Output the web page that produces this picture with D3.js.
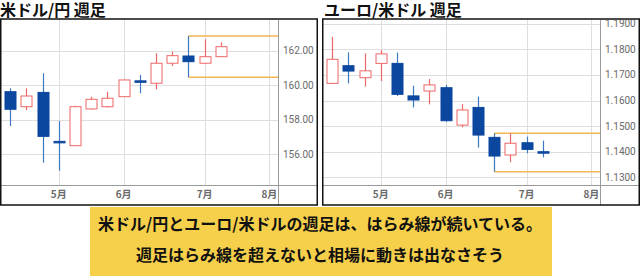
<!DOCTYPE html>
<html>
<head>
<meta charset="utf-8">
<script src="https://cdn.jsdelivr.net/npm/d3@7"></script>
<style>
  html, body { margin: 0; padding: 0; background: #fff; }
  svg { display: block; }
</style>
</head>
<body>
<svg id="chart" width="640" height="276"></svg>
<script>
// ---- data ----
const monthLabels = ['5月', '6月', '7月', '8月'];
const monthIndex = [3, 7, 12, 16];

// USD/JPY weekly
const ujOpen  = [159.64, 158.77, 159.60, 156.76, 156.51, 158.64, 158.77, 159.35, 160.27, 160.13, 161.29, 161.71, 161.29, 161.67];
const ujHigh  = [159.84, 159.84, 160.71, 157.94, 158.83, 159.35, 159.64, 160.34, 160.61, 161.87, 161.96, 162.87, 162.68, 162.50];
const ujLow   = [157.65, 158.58, 155.52, 155.06, 156.51, 158.60, 158.72, 159.33, 159.55, 159.78, 161.13, 160.48, 161.27, 161.65];
const ujClose = [158.62, 159.39, 157.05, 156.72, 158.77, 159.20, 159.26, 160.32, 160.25, 161.29, 161.73, 161.38, 161.67, 162.25];
const ujTicks = [156, 158, 160, 162];

// EUR/USD weekly
const euOpen  = [1.1667, 1.1736, 1.1689, 1.1745, 1.1745, 1.1618, 1.1637, 1.1650, 1.1504, 1.1573, 1.1456, 1.1387, 1.1435, 1.1400];
const euHigh  = [1.1849, 1.1788, 1.1784, 1.1797, 1.1787, 1.1658, 1.1684, 1.1661, 1.1586, 1.1615, 1.1472, 1.1472, 1.1459, 1.1443];
const euLow   = [1.1664, 1.1667, 1.1654, 1.1676, 1.1618, 1.1573, 1.1585, 1.1517, 1.1495, 1.1416, 1.1322, 1.1359, 1.1394, 1.1378];
const euClose = [1.1761, 1.1715, 1.1716, 1.1782, 1.1624, 1.1602, 1.1661, 1.1521, 1.1563, 1.1465, 1.1383, 1.1433, 1.1409, 1.1396];
const euTicks = [1.13, 1.14, 1.15, 1.16, 1.17, 1.18, 1.19];

// inside bar (mother candle) index for each pair
const ujMother = 11;
const euMother = 10;

// ---- drawing ----
const svg = d3.select('#chart');
const UP = '#ee6767', DOWN = '#0b479f', DOWN_WICK = '#3f78c2';
const GRID = '#dedede', AXIS = '#9a9a9a', BAND = '#f4b552';

function drawPanel(x0, w, title, O, H, L, C, ticks, yDomain, fmt, mother) {
  const top = 19, bottom = 205, axisX = 278, baseY = 185;
  const g = svg.append('g').attr('transform', `translate(${x0},0)`);

  const clipId = 'clip' + Math.round(x0);
  g.append('clipPath').attr('id', clipId)
    .append('rect').attr('x', 0).attr('y', top + 1).attr('width', w).attr('height', bottom - top - 1);
  const inner = g.append('g').attr('clip-path', `url(#${clipId})`);

  const x = d3.scaleLinear().domain([-0.63, 16.53]).range([0, axisX]);
  const y = d3.scaleLinear().domain(yDomain).range([baseY, top]);

  // grid
  inner.append('g').selectAll('line').data(ticks).join('line')
    .attr('x1', 0).attr('x2', axisX)
    .attr('y1', d => Math.round(y(d)) + 0.5).attr('y2', d => Math.round(y(d)) + 0.5)
    .attr('stroke', GRID);
  inner.append('g').selectAll('line').data(monthIndex).join('line')
    .attr('x1', d => Math.round(x(d)) + 0.5).attr('x2', d => Math.round(x(d)) + 0.5)
    .attr('y1', top).attr('y2', baseY)
    .attr('stroke', GRID);

  // axes lines
  inner.append('line').attr('x1', 0).attr('x2', w).attr('y1', baseY + 0.5).attr('y2', baseY + 0.5)
    .attr('stroke', AXIS);
  inner.append('line').attr('x1', axisX + 0.5).attr('x2', axisX + 0.5).attr('y1', top).attr('y2', bottom)
    .attr('stroke', AXIS);

  // y tick labels
  inner.append('g').selectAll('text').data(ticks).join('text')
    .attr('x', axisX + 5).attr('y', d => y(d)).attr('dy', '0.35em')
    .attr('font-family', 'Roboto, "Noto Sans", sans-serif').attr('font-size', 10)
    .attr('fill', '#6a6a6a').text(fmt);

  // month labels
  inner.append('g').selectAll('text').data(monthIndex).join('text')
    .attr('x', d => x(d)).attr('y', baseY + 13).attr('text-anchor', 'middle')
    .attr('font-family', '"Noto Sans CJK JP", sans-serif').attr('font-size', 10)
    .attr('font-weight', 'bold').attr('fill', '#6a6a6a')
    .text((d, i) => monthLabels[i]);

  // inside-bar range lines
  [H[mother], L[mother]].forEach(v => {
    inner.append('line')
      .attr('x1', x(mother)).attr('x2', axisX)
      .attr('y1', y(v)).attr('y2', y(v))
      .attr('stroke', BAND).attr('stroke-width', 1.5);
  });

  // candles
  const idx = d3.range(O.length);
  const bw = 11;
  const cg = inner.append('g').selectAll('g').data(idx).join('g');
  cg.append('line')
    .attr('x1', i => Math.round(x(i)) + 0.5).attr('x2', i => Math.round(x(i)) + 0.5)
    .attr('y1', i => y(H[i])).attr('y2', i => y(L[i]))
    .attr('stroke', i => C[i] >= O[i] ? UP : DOWN_WICK).attr('stroke-width', 1.2);
  cg.append('rect')
    .attr('x', i => Math.round(x(i)) - bw / 2 + 0.5)
    .attr('y', i => y(Math.max(O[i], C[i])))
    .attr('width', bw)
    .attr('height', i => Math.max(1.5, Math.abs(y(O[i]) - y(C[i]))))
    .attr('fill', i => C[i] >= O[i] ? '#fff' : DOWN)
    .attr('stroke', i => C[i] >= O[i] ? UP : DOWN)
    .attr('stroke-width', 1);

  // border
  g.append('rect').attr('x', 0.75).attr('y', top).attr('width', w - 1.5).attr('height', bottom - top)
    .attr('fill', 'none').attr('stroke', '#111').attr('stroke-width', 1.5);

  // title
  svg.append('text').attr('x', x0 + (x0 ? 2 : 0)).attr('y', 15.5)
    .attr('font-family', '"Noto Sans CJK JP", sans-serif').attr('font-size', 16)
    .attr('font-weight', 'bold').attr('fill', '#111').text(title);
}

drawPanel(0, 318, '米ドル/円 週足', ujOpen, ujHigh, ujLow, ujClose, ujTicks,
  [154.23, 163.855], d => d3.format('.2f')(d), ujMother);
drawPanel(322, 318, 'ユーロ/米ドル 週足', euOpen, euHigh, euLow, euClose, euTicks,
  [1.12699, 1.19184], d => d3.format('.4f')(d), euMother);

// ---- comment box ----
svg.append('rect').attr('x', 90).attr('y', 207).attr('width', 462).attr('height', 69)
  .attr('fill', '#f6d04b');
const notes = ['米ドル/円とユーロ/米ドルの週足は、はらみ線が続いている。', '週足はらみ線を超えないと相場に動きは出なさそう'];
svg.append('g').selectAll('text').data(notes).join('text')
  .attr('x', 320).attr('y', (d, i) => 230 + i * 31).attr('text-anchor', 'middle')
  .attr('font-family', '"Noto Sans CJK JP", sans-serif').attr('font-size', 16)
  .attr('font-weight', 'bold').attr('fill', '#111').text(d => d);
</script>
</body>
</html>
